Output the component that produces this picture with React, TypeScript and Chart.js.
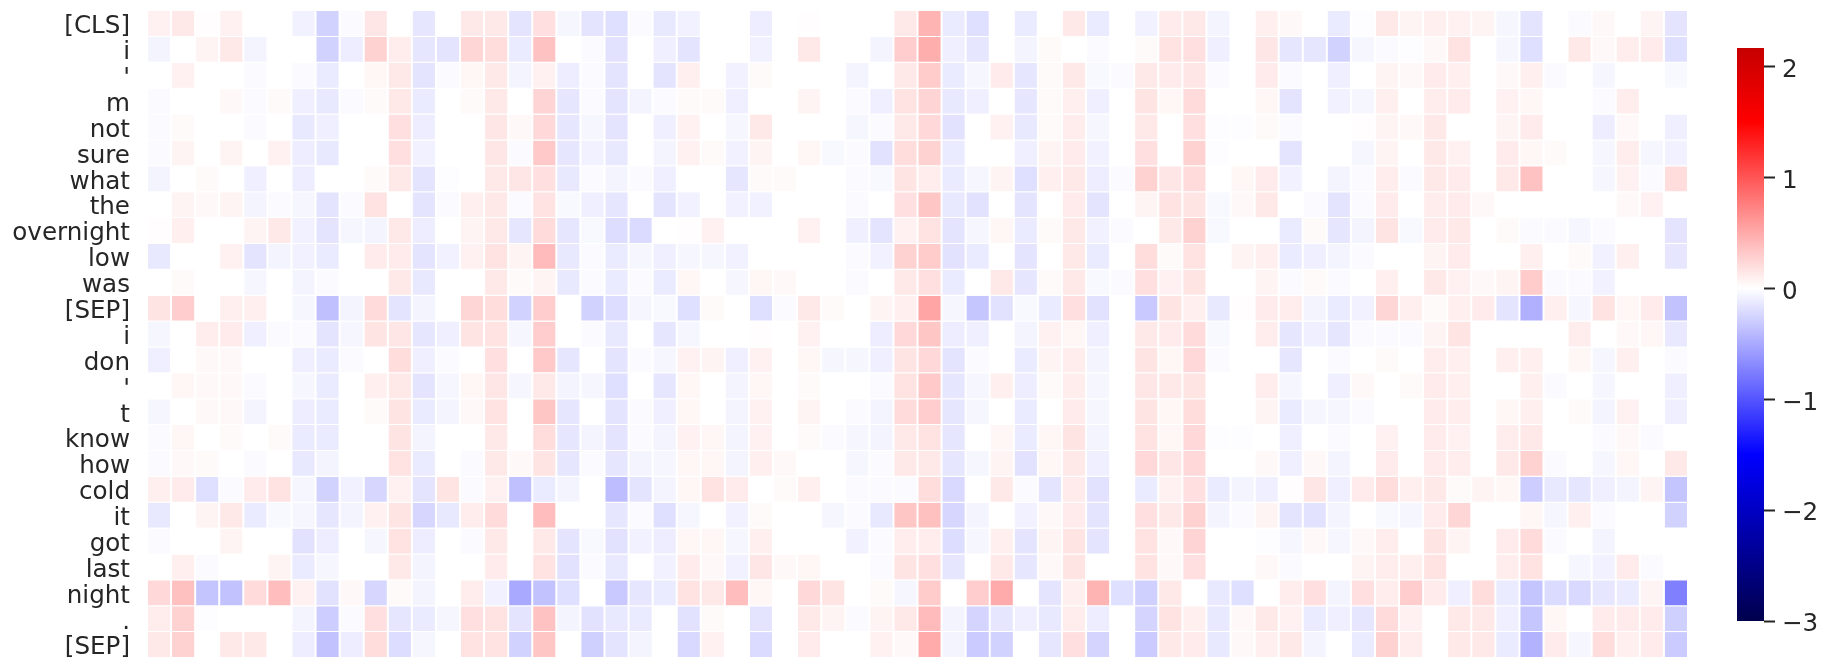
import React, { useEffect, useRef } from "react";
import { Chart, registerables } from "chart.js";

Chart.register(...registerables);

const rowLabels = ["[CLS]", "i", "'", "m", "not", "sure", "what", "the", "overnight", "low", "was", "[SEP]", "i", "don", "'", "t", "know", "how", "cold", "it", "got", "last", "night", ".", "[SEP]"];

const r0 = [.06,.1,.01,.06,0,0,-.06,-.2,-.02,.11,0,-.11,0,.1,.1,-.12,.14,-.04,-.12, -.14,-.02,-.1,-.06,0,0,-.08,0,.01,0,0,0,.1,.33,-.09,-.14,0,-.09,0,.1,-.09,0,-.06,.09,.1, -.05,0,.07,.03,0,-.09,-.01,.1,.05,.07,.06,.05,-.04,-.12,0,-.02,.03,0,.05,-.12];
const r1 = [-.05,0,.05,.1,-.05,0,0,-.2,-.08,.2,.08,-.11,-.12,.18,.15,-.09,.27,0,-.02, -.13,0,-.07,-.12,0,0,-.06,0,.1,0,0,-.05,.22,.36,-.07,-.11,0,-.05,.02,0,-.02,0,.02,.13,.14, -.07,0,.11,-.11,-.11,-.2,-.04,-.02,-.01,.03,.13,0,-.04,-.14,0,.1,.03,.08,.09,-.14];
const r2 = [0,.06,0,0,-.02,0,-.02,-.09,0,.04,.1,-.12,-.02,.04,.1,-.05,.06,-.08,-.02, -.12,0,-.12,.07,0,-.06,.02,0,0,0,-.05,0,.1,.23,-.09,-.04,.09,-.11,.02,.1,-.03,-.02,.1,.09,.11, -.02,0,.09,-.02,0,-.07,0,.05,.03,.09,.07,0,.03,.07,-.02,0,-.04,0,0,-.03];
const r3 = [-.02,0,0,.03,-.02,.02,-.07,-.1,-.02,.02,.1,-.09,0,.02,.1,0,.19,-.11,-.02, -.12,-.05,-.02,.02,.02,-.07,0,0,.05,0,-.02,-.07,.13,.19,-.1,-.07,0,-.11,.02,.07,-.07,0,.12,.04,.16, 0,0,.04,-.12,0,-.06,-.04,.07,0,.08,.09,0,.06,.04,0,0,-.02,.08,0,0];
const r4 = [-.02,.02,0,0,-.02,0,-.1,-.07,0,0,.14,-.08,0,0,.11,.03,.17,-.11,-.04, -.12,0,-.07,.06,0,-.04,.1,0,0,0,-.04,-.02,.1,.17,-.13,0,.06,-.1,.02,.08,-.04,0,.1,0,.14, -.01,-.01,.02,-.02,0,0,.01,.05,.03,.1,0,0,.05,.09,0,0,-.08,.03,0,-.07];
const r5 = [-.02,.05,0,.05,0,.06,-.08,-.1,0,0,.14,-.06,0,0,.11,-.02,.24,-.11,-.06, -.1,0,-.05,.06,.02,-.06,.05,0,.04,-.03,-.02,-.13,.15,.2,-.09,0,0,-.07,.05,.09,-.06,0,.14,0,.2, -.01,0,0,-.12,0,0,-.04,.05,0,.1,.06,0,.09,.04,.02,0,-.04,.08,-.04,-.06];
const r6 = [-.05,0,.02,0,-.07,0,-.08,0,0,.02,.1,-.12,-.01,0,.1,.11,.14,-.1,-.02, -.05,-.02,-.07,0,0,-.11,.02,.02,0,0,-.02,-.03,.12,.08,-.09,-.04,.05,-.14,.07,.1,-.08,-.02,.2,.11,.16, 0,.04,.09,-.06,0,-.05,-.02,.08,-.02,.1,.09,0,.1,.27,0,0,-.04,.06,-.02,.15];
const r7 = [0,.05,.03,.05,-.05,-.02,-.04,-.12,-.02,.13,0,-.12,-.02,.07,.1,-.02,.13,-.03,-.07, -.11,0,-.12,-.06,0,-.06,-.06,0,0,0,-.02,0,.14,.25,-.1,-.13,0,-.12,0,.09,-.12,0,.05,.13,.12, -.03,.03,.1,0,-.02,-.12,-.02,.09,0,.08,.09,.03,0,0,0,0,0,.03,.06,0];
const r8 = [.01,.07,0,0,.05,.1,-.06,-.12,-.04,-.05,.1,-.08,0,.05,.1,-.11,.16,-.11,-.03, -.15,-.16,0,.01,.06,0,0,0,.06,0,-.07,-.12,.06,.13,-.12,-.04,.04,-.09,.02,.1,-.06,-.02,0,.1,.2, -.03,0,0,-.09,.02,-.11,-.05,.12,-.03,.09,.1,0,.02,-.02,-.02,-.04,-.02,0,0,-.12];
const r9 = [-.1,0,0,.06,-.12,-.05,-.06,-.09,0,.09,.09,-.12,-.06,.06,.13,.05,.3,-.1,-.02, -.09,-.04,-.07,-.04,-.04,-.06,0,0,0,0,-.02,-.06,.2,.23,-.13,-.09,0,-.12,0,.1,-.09,0,.15,.02,.13, 0,.05,.07,-.09,-.07,-.05,-.02,0,0,.05,.09,0,0,.07,0,.02,-.06,.07,0,-.11];
const r10 = [0,.02,0,0,-.04,0,-.05,-.02,0,0,.1,-.1,0,0,.1,.02,.05,-.1,-.02, -.09,-.02,-.09,.04,0,-.04,.04,.03,0,0,-.02,0,.1,.14,-.09,0,.1,-.11,.02,.1,-.03,-.02,.14,.06,.12, 0,0,.05,-.02,.02,-.02,0,.07,0,.1,.06,.03,.05,.23,-.02,-.02,-.06,0,0,0];
const r11 = [.12,.22,0,.07,.07,0,-.04,-.28,-.05,.16,-.12,-.05,0,.18,.15,-.2,.22,0,-.2, -.15,-.04,-.03,-.14,.02,0,-.14,-.02,.1,.02,0,.05,.07,.4,-.04,-.25,-.13,-.03,-.09,.14,-.13,0,-.24,.12,.07, -.1,.01,.09,.08,-.05,-.09,-.06,.18,.07,.02,.07,.09,-.12,-.35,.07,-.04,.13,.04,.09,-.27];
const r12 = [-.04,0,.08,.09,-.07,-.02,-.02,-.12,-.04,.12,.11,-.11,-.07,.12,.13,-.04,.22,0,-.02, -.1,0,-.11,-.04,0,0,.01,0,.06,0,0,-.08,.17,.25,-.08,-.07,0,-.05,.06,.04,-.07,0,.1,.09,.16, -.03,0,.08,-.11,-.07,-.11,-.02,-.02,-.02,.05,.12,0,0,0,0,.08,0,.03,.04,-.1];
const r13 = [-.07,0,.03,.03,0,0,-.07,-.09,-.02,0,.15,-.07,-.02,0,.14,0,.24,-.11,0, -.12,-.02,-.04,.06,.05,-.07,.06,0,.04,-.04,-.04,-.07,.12,.17,-.12,-.02,0,-.09,.05,.08,-.05,0,.12,.04,.17, -.02,0,0,-.11,0,-.02,0,.02,0,.08,.07,0,.07,.07,0,.04,-.04,.07,0,-.02];
const r14 = [0,.04,.03,.03,-.02,0,-.04,-.09,0,.07,.1,-.12,-.04,.04,.11,-.04,.1,-.05,-.04, -.14,0,-.11,.04,0,-.05,.04,0,.02,0,0,-.02,.13,.24,-.11,-.04,.07,-.08,.02,.08,-.04,0,.11,.1,.12, 0,0,.08,-.04,0,-.07,.03,0,.02,.09,.07,0,0,.07,-.02,0,-.04,0,0,-.07];
const r15 = [-.04,0,.03,.03,-.05,0,-.08,-.09,0,.02,.12,-.09,-.05,.03,.13,0,.25,-.11,0, -.12,-.02,-.07,.04,0,-.05,.06,0,.05,0,-.02,-.05,.16,.22,-.11,-.04,0,-.09,0,.09,-.04,0,.12,.04,.15, 0,0,.05,-.09,-.04,-.04,-.02,0,0,.09,.08,0,.04,.07,0,.02,-.05,.06,0,-.07];
const r16 = [-.02,.04,0,.02,0,.02,-.09,-.09,0,0,.12,-.05,0,0,.1,0,.15,-.11,-.05, -.12,-.02,-.05,.06,.04,-.05,.06,0,.02,-.02,-.04,-.05,.1,.13,-.11,0,.04,-.09,.04,.12,-.05,0,.13,.04,.17, -.01,-.01,0,-.07,0,-.02,0,.06,0,.09,.06,0,.08,.1,0,0,-.02,.03,-.02,0];
const r17 = [-.02,.03,.02,0,-.02,0,-.1,-.05,0,0,.13,-.09,0,-.02,.1,.03,.12,-.11,-.02, -.11,-.05,-.04,.04,.04,-.05,.07,.03,0,0,-.04,-.02,.1,.1,-.11,-.04,.05,-.13,.04,.1,-.07,0,.17,.11,.17, 0,0,.03,-.07,.03,-.05,0,.09,0,.09,.08,0,.1,.2,-.02,0,-.04,.04,0,.1];
const r18 = [.07,.09,-.14,-.02,.09,.13,-.04,-.2,-.06,-.18,.06,-.12,.12,-.02,.06,-.28,-.09,-.05,0, -.29,-.12,-.05,.04,.13,.09,0,.02,.07,0,-.02,-.02,-.02,.15,-.17,0,.1,-.02,-.12,.09,-.13,0,-.09,.06,.14, -.09,-.05,-.07,.01,.11,-.07,.09,.15,.07,.1,.02,.05,.04,-.22,-.1,-.11,-.07,-.05,.05,-.26];
const r19 = [-.1,0,.05,.1,-.09,-.03,-.04,-.11,-.05,.06,.12,-.18,-.1,.08,.16,0,.29,0,0, -.11,-.02,-.14,-.04,0,-.06,.02,0,0,-.04,-.02,-.1,.25,.28,-.18,-.05,0,-.06,.03,.09,-.12,0,.14,.1,.2, -.05,-.02,.05,-.12,-.13,-.05,0,-.03,-.04,.09,.18,0,0,.04,-.04,.07,-.02,0,0,-.2];
const r20 = [-.02,0,0,.05,0,0,-.13,-.08,0,-.04,.13,-.08,0,-.02,.1,0,.1,-.12,-.03, -.13,-.06,-.08,.04,.04,-.04,.07,0,0,0,-.06,-.02,.08,.08,-.15,-.04,.07,-.12,.05,.12,-.12,0,.13,.03,.19, 0,0,-.01,-.04,.03,-.04,.03,.08,0,.12,.05,0,.09,.16,-.02,0,-.05,0,0,0];
const r21 = [0,.07,-.02,0,0,.05,-.09,-.04,0,0,.1,-.05,0,0,.09,0,.13,-.13,-.02, -.1,0,-.06,.09,.03,-.06,.11,.03,.04,0,0,-.02,.12,.14,-.11,0,.1,-.11,.03,.12,0,0,.13,.03,.14, 0,0,.03,-.02,0,0,.05,.08,.07,.13,0,0,.08,.13,0,-.04,-.06,.09,-.02,0];
const r22 = [.17,.28,-.26,-.27,.16,.29,.06,-.13,.03,-.18,.02,-.05,0,.08,-.06,-.38,-.27,-.14,0, -.24,-.11,-.09,.13,.1,.29,.04,0,.17,.12,0,.02,-.04,.23,0,.22,.37,0,-.12,.07,.33,-.14,-.21,.1,0, -.1,-.14,0,.08,.14,-.05,.14,.08,.22,.09,-.07,.15,-.09,-.26,-.16,-.17,-.11,-.09,.05,-.56];
const r23 = [.08,.2,-.01,0,0,0,-.05,-.22,-.02,.14,-.11,-.09,-.04,.14,.13,-.12,.27,-.05,-.13, -.1,-.09,0,-.13,.02,0,-.12,0,.1,.05,-.02,.05,.1,.3,-.05,-.19,-.11,-.07,-.1,.08,-.08,0,-.19,.13,.07, -.1,.03,.1,.06,-.09,-.07,-.11,.16,.06,0,.1,.1,-.07,-.25,.04,0,.09,.09,.09,-.21];
const r24 = [.1,.2,0,.1,.1,0,-.08,-.27,-.08,.15,-.15,-.04,0,.13,.13,-.2,.25,0,-.21, -.12,-.05,0,-.17,.06,0,-.16,0,.09,0,0,.06,.03,.37,-.05,-.23,-.2,0,-.11,.14,-.19,0,-.23,.1,.09, -.1,.03,.07,.1,-.05,0,-.09,.2,.08,0,.1,.1,-.09,-.34,.09,-.04,.15,.07,.09,-.23];

const rows = [r0,r1,r2,r3,r4,r5,r6,r7,r8,r9,r10,r11,r12,r13,r14,r15,r16,r17,r18,r19,r20,r21,r22,r23,r24];
const columns = r0.map((_, i) => String(i));
const colorMin = -3;
const colorMax = 2.165;
const colorbarTicks = [-3, -2, -1, 0, 1, 2];
const colorbarStops = [-3, -1.5, 0, 1.5, 2.165];
const readingGain = 1.33; // my readings ran about a quarter light against the reference's colours

// seaborn-style "seismic" centred on 0 with a symmetric range of +-3
function seismic(v: number): string {
  const t = 0.5 + v / 6;
  let r: number, g: number, b: number;
  if (t < 0.25) { const k = t / 0.25; r = 0; g = 0; b = 0.3 + 0.7 * k; }
  else if (t < 0.5) { const k = (t - 0.25) / 0.25; r = k; g = k; b = 1; }
  else if (t < 0.75) { const k = (t - 0.5) / 0.25; r = 1; g = 1 - k; b = 1 - k; }
  else { const k = (t - 0.75) / 0.25; r = 1 - 0.5 * k; g = 0; b = 0; }
  return `rgb(${Math.round(r * 255)},${Math.round(g * 255)},${Math.round(b * 255)})`;
}

const FONT = "'DejaVu Sans'";
const TEXT = "#262626";

export default function App() {
  const heatRef = useRef<HTMLCanvasElement>(null);
  const barRef = useRef<HTMLCanvasElement>(null);

  useEffect(() => {
    const heat = new Chart(heatRef.current!, {
      type: "bar",
      data: {
        labels: columns,
        datasets: rows.map((row, ri) => ({
          label: rowLabels[ri],
          data: row.map((): [number, number] => [ri, ri + 1]),
          backgroundColor: row.map((v) => seismic(v * readingGain)),
          borderColor: "#ffffff",
          borderWidth: 1,
          barPercentage: 1,
          categoryPercentage: 1,
          grouped: false,
          inflateAmount: 0,
        })),
      },
      options: {
        animation: false,
        responsive: false,
        layout: { padding: { top: 11, bottom: 12, right: 143, left: 0 } },
        plugins: { legend: { display: false }, tooltip: { enabled: false } },
        scales: {
          x: { display: false, offset: true, grid: { display: false } },
          y: {
            type: "linear",
            min: 0,
            max: rowLabels.length,
            reverse: true,
            border: { display: false },
            grid: { display: false, drawTicks: false },
            afterFit: (s: any) => { s.width = 147; s.paddingTop = 0; s.paddingBottom = 0; },
            afterBuildTicks: (s: any) => { s.ticks = rowLabels.map((_, i) => ({ value: i + 0.5 })); },
            ticks: {
              autoSkip: false,
              padding: 17,
              labelOffset: 3,
              color: TEXT,
              font: { family: FONT, size: 24.6 },
              callback: (v: any) => rowLabels[Math.floor(Number(v))],
            },
          },
        },
      },
    } as any);

    const bar = new Chart(barRef.current!, {
      type: "bar",
      data: {
        labels: ["colorbar"],
        datasets: [{
          data: [[colorMin, colorMax]],
          barPercentage: 1,
          categoryPercentage: 1,
          borderWidth: 0,
          inflateAmount: 0,
          backgroundColor: (ctx: any) => {
            const s = ctx.chart.scales.y;
            const y0 = s ? s.getPixelForValue(colorMin) : NaN;
            const y1 = s ? s.getPixelForValue(colorMax) : NaN;
            if (!Number.isFinite(y0) || !Number.isFinite(y1)) return "#fff";
            const g = ctx.chart.ctx.createLinearGradient(0, y0, 0, y1);
            colorbarStops.forEach((v) => g.addColorStop((v - colorMin) / (colorMax - colorMin), seismic(v)));
            return g;
          },
        }],
      },
      options: {
        animation: false,
        responsive: false,
        layout: { padding: { top: 48, bottom: 49, left: 1737, right: 0 } },
        plugins: { legend: { display: false }, tooltip: { enabled: false } },
        scales: {
          x: { display: false },
          y: {
            type: "linear",
            position: "right",
            min: colorMin,
            max: colorMax,
            border: { display: false },
            grid: { drawOnChartArea: false, drawTicks: true, tickLength: 11, tickWidth: 2, tickColor: TEXT },
            afterFit: (s: any) => { s.width = 67; s.paddingTop = 0; s.paddingBottom = 0; },
            afterBuildTicks: (s: any) => { s.ticks = colorbarTicks.map((value) => ({ value })); },
            ticks: {
              padding: 7,
              labelOffset: 4,
              color: TEXT,
              font: { family: FONT, size: 24.6 },
              callback: (v: any) => String(v).replace("-", "\u2212"),
            },
          },
        },
      },
    } as any);

    return () => { heat.destroy(); bar.destroy(); };
  }, []);

  const abs: React.CSSProperties = { position: "absolute", left: 0, top: 0 };
  return (
    <div style={{ position: "absolute", left: 0, top: 0, width: 1831, height: 670, overflow: "hidden", background: "#fff" }}>
      <canvas ref={heatRef} width={1831} height={670} style={abs} />
      <canvas ref={barRef} width={1831} height={670} style={abs} />
    </div>
  );
}
